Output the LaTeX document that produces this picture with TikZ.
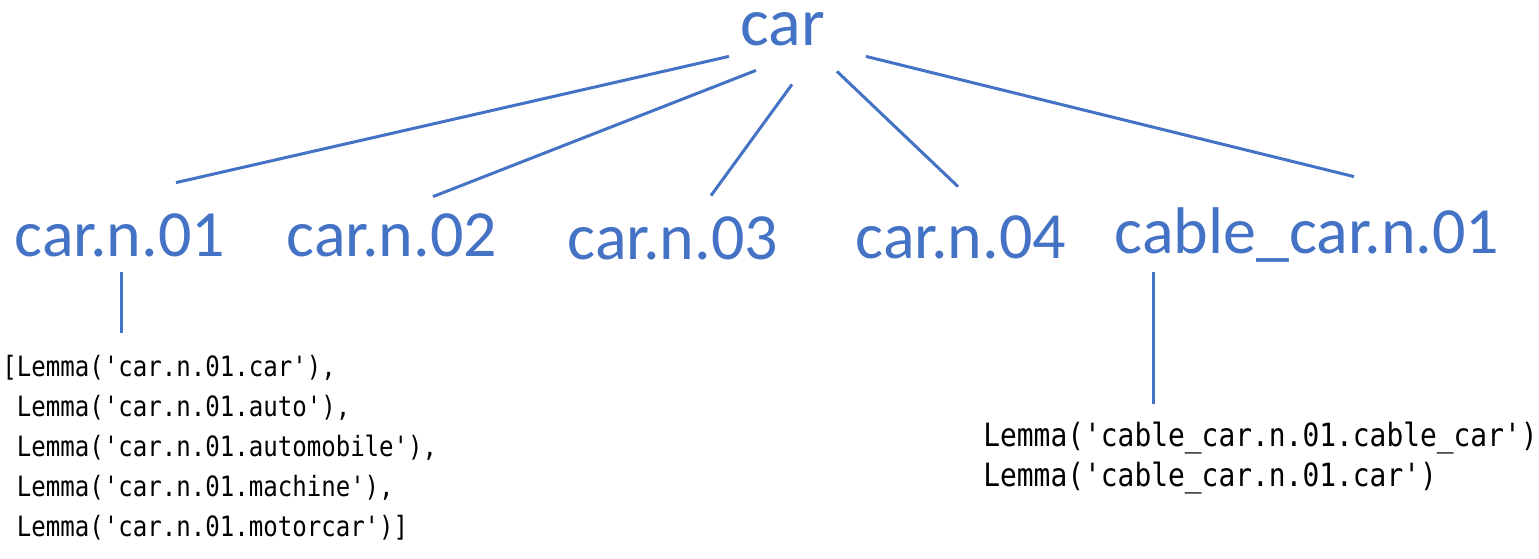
\documentclass[tikz,border=0pt]{standalone}
\usepackage{fontspec}
\setmonofont{DejaVu Sans Mono}
\newfontfamily\synfont{Carlito}
\usetikzlibrary{positioning,calc}
\definecolor{wnblue}{HTML}{4472C4}

\begin{document}
\begin{tikzpicture}[x=0.5pt, y=-0.5pt,
    synset/.style={text=wnblue, inner sep=0pt, text height=24pt, text depth=6pt,
                   font=\synfont\fontsize{33}{33}\selectfont},
    lemmas/.style={inner sep=0pt, align=left, anchor=north west},
    link/.style={draw=wnblue, line width=1.5pt}]
  \useasboundingbox (0,0) rectangle (1539,558);

  \node[synset, text height=17pt, text depth=0pt, font=\synfont\fontsize{34}{34}\selectfont]
  at (783,28) (car) {car};

  \node[synset, below of = car, node distance = 105pt, xshift = -331.5pt] (n01) {car.n.01};
  \node[synset, right of = n01, node distance = 136pt] (n02) {car.n.02};
  \node[synset, right of = n02, node distance = 140.5pt, yshift = -1.5pt] (n03) {car.n.03};
  \node[synset, right of = n03, node distance = 144pt, yshift = .5pt] (n04) {car.n.04};
  \node[synset, right of = n04, node distance = 173pt, yshift = 2.5pt] (cable) {cable\_car.n.01};

  \node[lemmas, xscale=0.86, font=\ttfamily\fontsize{14}{20}\selectfont] at (2,355) (lemmas01)
  {[Lemma('car.n.01.car'),\\
   \ Lemma('car.n.01.auto'),\\
   \ Lemma('car.n.01.automobile'),\\
   \ Lemma('car.n.01.machine'),\\
   \ Lemma('car.n.01.motorcar')]};
  \node[lemmas, xscale=0.872, font=\ttfamily\fontsize{16}{20}\selectfont] at (983,422) (lemmascable)
  {Lemma('cable\_car.n.01.cable\_car')\\
   Lemma('cable\_car.n.01.car')};

  % car -> synsets
  \draw[link] ([xshift=-27pt, yshift=-5.5pt]car.south) -- ([xshift=28pt, yshift=12.5pt]n01.north);
  \draw[link] ([xshift=-13.5pt, yshift=-12.5pt]car.south) -- ([xshift=20.5pt, yshift=5.5pt]n02.north);
  \draw[link] ([xshift=4.5pt, yshift=-19.5pt]car.south) -- ([xshift=19pt, yshift=7.5pt]n03.north);
  \draw[link] ([xshift=27pt, yshift=-13pt]car.south) -- ([xshift=-1.5pt, yshift=11.5pt]n04.north);
  \draw[link] ([xshift=41.5pt, yshift=-5.5pt]car.south) -- ([xshift=23.5pt, yshift=14pt]cable.north);

  % synsets -> lemmas
  \coordinate (n01-foot) at ([xshift=.5pt, yshift=-2pt]n01.south);
  \coordinate (cable-foot) at ([xshift=-77pt, yshift=-3.5pt]cable.south);
  \draw[link, shorten >= 11pt] (n01-foot) -- (n01-foot |- lemmas01.north);
  \draw[link, shorten >= 9pt] (cable-foot) -- (cable-foot |- lemmascable.north);
\end{tikzpicture}
\end{document}
